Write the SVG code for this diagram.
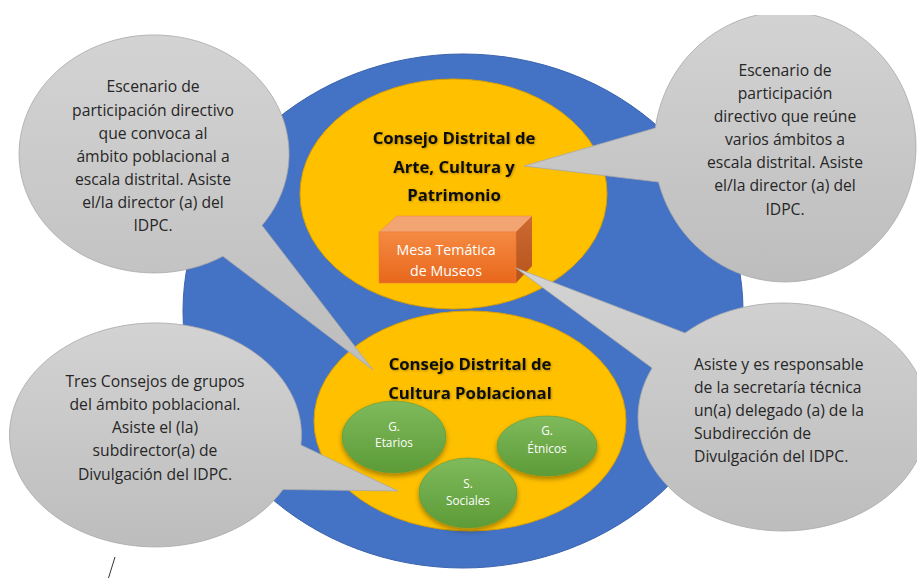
<svg xmlns="http://www.w3.org/2000/svg" width="917" height="578" viewBox="0 0 917 578">
<defs>
<style>
.callout{fill:url(#gGray);stroke:#a8a8a8;stroke-width:0.8}
.ct{font-family:"Open Sans",Lato,"Liberation Sans",sans-serif;font-size:15.7px;fill:#262626;text-anchor:middle}
.ctl{font-family:"Open Sans",Lato,"Liberation Sans",sans-serif;font-size:15.7px;fill:#262626;text-anchor:start}
.title{font-family:"Open Sans",Lato,"Liberation Sans",sans-serif;font-size:16.7px;font-weight:bold;fill:#111;text-anchor:middle}
.wt{font-family:"Open Sans",Lato,"Liberation Sans",sans-serif;fill:#fff;text-anchor:middle}
.green{fill:url(#gGreen);stroke:#5e9a3a;stroke-width:0.6}
.yellow{fill:#FFC000;stroke:#d9a000;stroke-width:1}
</style>
<linearGradient id="gGray" x1="0" y1="0" x2="0" y2="1">
<stop offset="0" stop-color="#d3d3d3"/>
<stop offset="1" stop-color="#bdbdbd"/>
</linearGradient>
<linearGradient id="gGreen" x1="0" y1="0" x2="0" y2="1">
<stop offset="0" stop-color="#7fba5c"/>
<stop offset="1" stop-color="#5d9b37"/>
</linearGradient>
<linearGradient id="gFront" x1="0" y1="0" x2="0" y2="1">
<stop offset="0" stop-color="#f58a42"/>
<stop offset="1" stop-color="#e8671c"/>
</linearGradient>
<linearGradient id="gSide" x1="0" y1="0" x2="0" y2="1">
<stop offset="0" stop-color="#cc6a32"/>
<stop offset="1" stop-color="#b5531c"/>
</linearGradient>
<filter id="shadow" x="-20%" y="-20%" width="140%" height="150%">
<feDropShadow dx="0" dy="3" stdDeviation="2.5" flood-color="#000" flood-opacity="0.35"/>
</filter>
<filter id="tshadow" x="-10%" y="-30%" width="120%" height="160%">
<feDropShadow dx="0.8" dy="0.8" stdDeviation="0.9" flood-color="#000" flood-opacity="0.3"/>
</filter>
<clipPath id="clipTop">
<rect x="0" y="15" width="917" height="563"/>
</clipPath>
</defs>
<rect width="917" height="578" fill="#fff"/>

<g id="blue-circle">
<ellipse cx="463" cy="311" rx="280" ry="257" fill="#4472C4" stroke="#3b64ad" stroke-width="1"/>
</g>

<g id="consejo-arte">
<ellipse class="yellow" cx="453.5" cy="194" rx="153.5" ry="115"/>
<g filter="url(#tshadow)">
<text class="title" x="454" y="144">Consejo Distrital de</text>
<text class="title" x="454" y="173">Arte, Cultura y</text>
<text class="title" x="454" y="201">Patrimonio</text>
</g>
</g>

<g id="mesa-tematica">
<polygon points="379,232 397,216 532,216 516,232" fill="#f3a473" stroke="#ef8a4a" stroke-width="0.6"/>
<polygon points="516,232 532,216 532,266 516,283" fill="url(#gSide)"/>
<rect x="379" y="232" width="137" height="51" fill="url(#gFront)" stroke="#ef7a30" stroke-width="0.6"/>
<text class="wt" x="446" y="254.5" font-size="14.2">Mesa Temática</text>
<text class="wt" x="446" y="275.5" font-size="14.2">de Museos</text>
</g>

<g id="consejo-poblacional">
<ellipse class="yellow" cx="470" cy="421" rx="156" ry="110"/>
<g filter="url(#tshadow)">
<text class="title" x="470" y="370">Consejo Distrital de</text>
<text class="title" x="470" y="399">Cultura Poblacional</text>
</g>
</g>

<g id="g-etarios">
<ellipse class="green" cx="394" cy="437" rx="52" ry="36" filter="url(#shadow)"/>
<text class="wt" x="394" y="430.5" font-size="11.8">G.</text>
<text class="wt" x="394" y="446.5" font-size="11.8">Etarios</text>
</g>

<g id="g-etnicos">
<ellipse class="green" cx="547" cy="446" rx="50" ry="30" filter="url(#shadow)"/>
<text class="wt" x="547" y="435" font-size="11.8">G.</text>
<text class="wt" x="547" y="452.5" font-size="11.8">Étnicos</text>
</g>

<g id="s-sociales">
<ellipse class="green" cx="468" cy="493" rx="49" ry="35" filter="url(#shadow)"/>
<text class="wt" x="468" y="487.5" font-size="11.8">S.</text>
<text class="wt" x="468" y="504.5" font-size="11.8">Sociales</text>
</g>

<g id="callout-top-left">
<path class="callout" d="M262,225.4 L373,370 L222.9,256.3 A135 119 0 1 1 262 225.4 Z"/>
<text class="ct" x="153" y="92">Escenario de</text>
<text class="ct" x="153" y="115.5">participación directivo</text>
<text class="ct" x="153" y="138.5">que convoca al</text>
<text class="ct" x="153" y="161.5">ámbito poblacional a</text>
<text class="ct" x="153" y="185">escala distrital. Asiste</text>
<text class="ct" x="153" y="208">el/la director (a) del</text>
<text class="ct" x="153" y="231">IDPC.</text>
</g>

<g id="callout-top-right">
<path class="callout" clip-path="url(#clipTop)" d="M655.3,128 L524,166 L658.5,182 A131 135 0 1 0 655.3 128 Z"/>
<text class="ct" x="785" y="75.5">Escenario de</text>
<text class="ct" x="785" y="98.5">participación</text>
<text class="ct" x="785" y="121.5">directivo que reúne</text>
<text class="ct" x="785" y="144.5">varios ámbitos a</text>
<text class="ct" x="785" y="167.5">escala distrital. Asiste</text>
<text class="ct" x="785" y="191">el/la director (a) del</text>
<text class="ct" x="785" y="214.5">IDPC.</text>
</g>

<g id="callout-bottom-right">
<path class="callout" d="M685,333 L516,268 L652.1,368 A145 114 0 1 0 685 333 Z"/>
<text class="ctl" x="694" y="369.5">Asiste y es responsable</text>
<text class="ctl" x="694" y="392.5">de la secretaría técnica</text>
<text class="ctl" x="694" y="415.5">un(a) delegado (a) de la</text>
<text class="ctl" x="694" y="438.5">Subdirección de</text>
<text class="ctl" x="694" y="462">Divulgación del IDPC.</text>
</g>

<g id="callout-bottom-left">
<path class="callout" d="M300.9,445 L398,491 L283,489.5 A146 112 0 1 1 300.9 445 Z"/>
<text class="ct" x="155" y="387">Tres Consejos de grupos</text>
<text class="ct" x="155" y="410">del ámbito poblacional.</text>
<text class="ct" x="155" y="433">Asiste el (la)</text>
<text class="ct" x="155" y="456">subdirector(a) de</text>
<text class="ct" x="155" y="480">Divulgación del IDPC.</text>
</g>

<g id="connectors">
<line x1="115" y1="557" x2="108.5" y2="578" stroke="#333" stroke-width="1"/>
</g>
</svg>
